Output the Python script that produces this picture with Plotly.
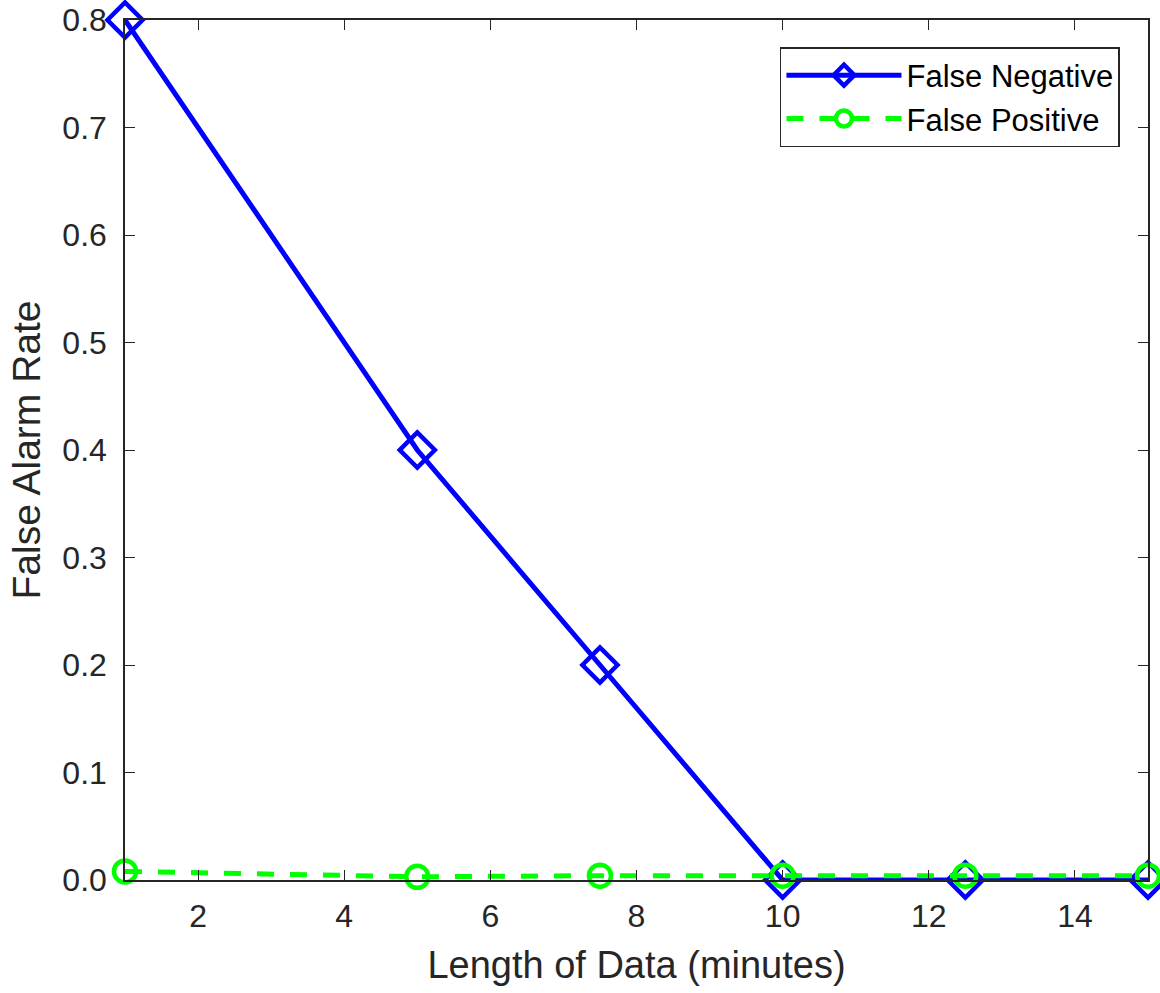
import plotly.graph_objects as go

x_vals = [1, 5, 7.5, 10, 12.5, 15]
false_negative = [0.8, 0.4, 0.2, 0.0, 0.0, 0.0]
false_positive = [0.008, 0.003, 0.004, 0.004, 0.004, 0.004]
x_ticks = [2, 4, 6, 8, 10, 12, 14]
y_ticks = [0.0, 0.1, 0.2, 0.3, 0.4, 0.5, 0.6, 0.7, 0.8]

fig = go.Figure()
fig.add_trace(go.Scatter(
    x=x_vals, y=false_negative, name="False Negative", mode="lines+markers",
    line=dict(color="#0000FF", width=5),
    marker=dict(symbol="diamond-open", size=27, color="#0000FF", line=dict(width=4.5)),
    cliponaxis=False,
))
fig.add_trace(go.Scatter(
    x=x_vals, y=false_positive, name="False Positive", mode="lines+markers",
    line=dict(color="#00FF00", width=5, dash="17px,16px"),
    marker=dict(symbol="circle-open", size=22, color="#00FF00", line=dict(width=4.5)),
    cliponaxis=False,
))

axis_common = dict(
    showgrid=False, zeroline=False, showline=True, mirror="ticks",
    linecolor="#262626", linewidth=1.5, ticks="inside", ticklen=10,
    tickcolor="#262626", tickfont=dict(size=32, color="#262626"),
    automargin=False,
)
fig.update_xaxes(range=[1, 15], tickvals=x_ticks, ticklabelstandoff=7,
                 title=dict(text="Length of Data (minutes)", font=dict(size=38, color="#262626"), standoff=18),
                 **axis_common)
fig.update_yaxes(range=[0, 0.8], tickvals=y_ticks, tickformat=".1f", ticklabelstandoff=10,
                 title=dict(text="False Alarm Rate", font=dict(size=39, color="#262626"), standoff=10),
                 **axis_common)

fig.update_layout(
    width=1160, height=993,
    margin=dict(l=125, r=12, t=20, b=113),
    plot_bgcolor="white", paper_bgcolor="white",
    font=dict(family="Liberation Sans, Arial, sans-serif", color="#262626"),
    legend=dict(x=0.9726, y=0.9686, xanchor="right", yanchor="top",
                bgcolor="white", bordercolor="#262626", borderwidth=1.5,
                font=dict(size=31, color="black"), itemwidth=115,
                tracegroupgap=0),
    showlegend=True,
)

fig.write_html("out.html")
